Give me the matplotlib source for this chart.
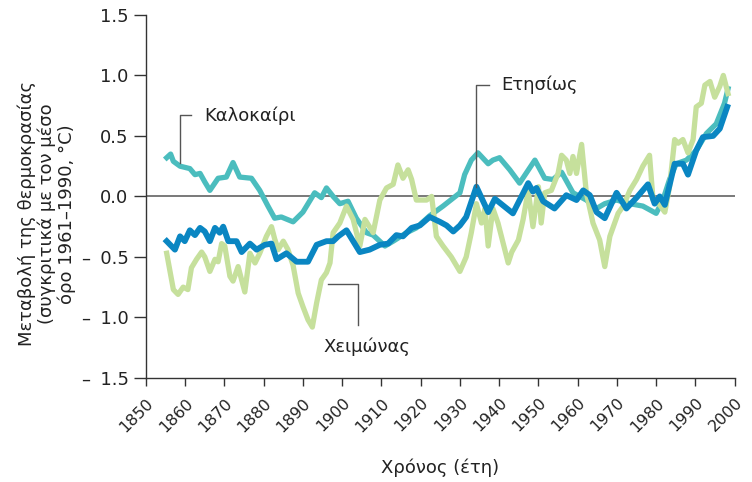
import matplotlib
matplotlib.use("Agg")
import matplotlib.pyplot as plt

# Summer (teal)
summer_years = [1855.3, 1856.3, 1857.0, 1858.7, 1861.2, 1862.5, 1863.8, 1865.0, 1866.3, 1868.4,
                1870.5, 1872.2, 1873.9, 1876.9, 1879.0, 1881.1, 1882.8, 1884.5, 1887.5, 1890.0,
                1893.0, 1894.7, 1896.0, 1897.7, 1899.4, 1901.5, 1903.6, 1906.2, 1907.9, 1910.9,
                1913.0, 1916.4, 1918.9, 1922.3, 1925.7, 1930.0, 1931.2, 1932.9, 1934.6, 1937.2,
                1938.4, 1940.1, 1942.7, 1945.2, 1949.1, 1951.6, 1953.7, 1955.9, 1958.8, 1962.2,
                1964.8, 1966.9, 1969.9, 1973.3, 1976.6, 1980.0, 1981.7, 1983.4, 1985.1, 1987.7,
                1990.2, 1992.8, 1995.3, 1997.4, 1998.3]
summer_vals = [0.32, 0.35, 0.29, 0.25, 0.23, 0.18, 0.19, 0.12, 0.05, 0.15,
               0.16, 0.28, 0.16, 0.15, 0.05, -0.08, -0.18, -0.17, -0.21, -0.13,
               0.03, -0.01, 0.07, 0.00, -0.06, -0.04, -0.18, -0.30, -0.32, -0.41,
               -0.37, -0.30, -0.26, -0.16, -0.08, 0.03, 0.18, 0.30, 0.36, 0.27,
               0.30, 0.32, 0.22, 0.11, 0.30, 0.15, 0.14, 0.20, 0.03, -0.03,
               -0.10, -0.06, -0.03, -0.06, -0.08, -0.14, -0.03, 0.14, 0.27, 0.30,
               0.38, 0.52, 0.60, 0.77, 0.89]

# Annual (dark blue)
annual_years = [1855.3, 1857.4, 1858.7, 1859.9, 1861.2, 1862.5, 1863.8, 1865.0, 1866.3, 1867.6,
                1868.8, 1869.7, 1871.0, 1873.1, 1874.4, 1876.5, 1878.2, 1880.3, 1882.0, 1883.3,
                1885.8, 1888.4, 1891.3, 1893.5, 1896.0, 1897.7, 1899.0, 1901.1, 1902.8, 1904.5,
                1907.0, 1909.6, 1911.7, 1913.8, 1915.5, 1917.7, 1919.8, 1922.3, 1924.9, 1926.6,
                1928.3, 1930.0, 1931.6, 1934.2, 1937.2, 1938.9, 1943.5, 1947.4, 1948.6, 1949.5,
                1951.2, 1954.1, 1957.1, 1959.7, 1961.4, 1963.1, 1964.8, 1966.9, 1969.9, 1972.4,
                1975.0, 1977.9, 1979.6, 1980.9, 1982.2, 1984.7, 1986.8, 1988.1, 1990.2, 1991.9,
                1994.5, 1996.2, 1998.1]
annual_vals = [-0.37, -0.44, -0.33, -0.37, -0.28, -0.32, -0.26, -0.29, -0.37, -0.26,
               -0.30, -0.25, -0.37, -0.37, -0.46, -0.39, -0.44, -0.40, -0.39, -0.52,
               -0.47, -0.54, -0.54, -0.40, -0.37, -0.37, -0.33, -0.28, -0.37, -0.46,
               -0.44, -0.40, -0.39, -0.32, -0.33, -0.26, -0.24, -0.17, -0.21, -0.24,
               -0.29, -0.24, -0.17, 0.08, -0.13, -0.02, -0.14, 0.11, 0.04, 0.07,
               -0.04, -0.10, 0.01, -0.03, 0.05, 0.01, -0.13, -0.18, 0.03, -0.10,
               -0.01, 0.10, -0.06, 0.00, -0.07, 0.27, 0.27, 0.18, 0.38, 0.49,
               0.50, 0.56, 0.74]

# Winter (light green)
winter_years = [1855.3, 1857.0, 1858.2, 1859.5, 1860.7, 1861.6, 1862.9, 1864.2, 1865.0, 1866.3,
                1867.6, 1868.4, 1869.3, 1870.1, 1871.4, 1872.2, 1873.5, 1875.2, 1876.5, 1877.8,
                1879.0, 1880.7, 1882.0, 1882.8, 1883.7, 1885.0, 1886.2, 1887.5, 1888.8, 1890.0,
                1891.3, 1892.4, 1893.5, 1894.7, 1896.0, 1896.9, 1897.7, 1899.4, 1901.1, 1902.8,
                1904.5, 1905.8, 1907.9, 1909.6, 1911.3, 1913.0, 1914.2, 1915.5, 1916.8, 1917.7,
                1918.9, 1921.5, 1922.8, 1924.0, 1925.7, 1927.8, 1930.0, 1931.6, 1932.9, 1934.2,
                1935.5, 1936.4, 1937.2, 1938.4, 1939.7, 1942.3, 1943.2, 1944.9, 1946.1, 1947.4,
                1948.6, 1950.0, 1950.7, 1951.6, 1953.3, 1955.0, 1955.9, 1957.1, 1958.0, 1958.8,
                1959.7, 1961.0, 1962.2, 1963.9, 1965.6, 1966.9, 1968.2, 1970.3, 1971.6, 1973.3,
                1975.0, 1976.6, 1978.3, 1979.2, 1980.9, 1982.2, 1983.4, 1984.7, 1985.6, 1986.8,
                1988.1, 1989.4, 1990.2, 1991.5, 1992.4, 1993.7, 1994.9, 1996.2, 1997.1, 1998.3]
winter_vals = [-0.47, -0.77, -0.81, -0.75, -0.77, -0.59, -0.52, -0.46, -0.50, -0.62,
               -0.52, -0.54, -0.39, -0.41, -0.66, -0.70, -0.58, -0.79, -0.47, -0.55,
               -0.47, -0.33, -0.25, -0.35, -0.44, -0.37, -0.44, -0.57, -0.80, -0.91,
               -1.02, -1.08, -0.88, -0.69, -0.63, -0.55, -0.30, -0.22, -0.08, -0.19,
               -0.41, -0.19, -0.30, -0.03, 0.07, 0.10, 0.26, 0.15, 0.22, 0.14,
               -0.03, -0.03, 0.00, -0.33, -0.41, -0.50, -0.62, -0.50, -0.30, -0.06,
               -0.22, -0.10, -0.41, -0.10, -0.22, -0.55, -0.46, -0.36, -0.19, 0.05,
               -0.25, 0.08, -0.22, 0.03, 0.05, 0.19, 0.34, 0.30, 0.19, 0.33,
               0.19, 0.43, 0.03, -0.22, -0.36, -0.58, -0.33, -0.14, -0.08, 0.05,
               0.14, 0.25, 0.34, -0.03, -0.07, -0.13, 0.08, 0.47, 0.44, 0.47,
               0.36, 0.47, 0.74, 0.77, 0.92, 0.95, 0.82, 0.91, 1.00, 0.85]

x_ticks = list(range(1850, 2001, 10))
y_ticks = [1.5, 1.0, 0.5, 0.0, -0.5, -1.0, -1.5]
y_tick_labels = ["1.5", "1.0", "0.5", "0.0", "\u2013\u2009 0.5", "\u2013\u2009 1.0", "\u2013\u2009 1.5"]

plt.rcParams["font.family"] = ["DejaVu Sans"]

fig = plt.figure(figsize=(7.52, 4.82), dpi=100)
ax = fig.add_axes([0.194, 0.216, 0.783, 0.753])

ax.axhline(0, color="#6e6e6e", lw=1.3, zorder=1)

ax.plot(summer_years, summer_vals, color="#4bbdbe", lw=3.8, zorder=2, solid_joinstyle="round")
ax.plot(winter_years, winter_vals, color="#c6e09c", lw=3.8, zorder=3, solid_joinstyle="round")
ax.plot(annual_years, annual_vals, color="#0a86c2", lw=4.2, zorder=4, solid_joinstyle="round")

ax.set_xlim(1850, 2000)
ax.set_ylim(-1.5, 1.5)
ax.set_xticks(x_ticks)
ax.set_xticklabels([str(y) for y in x_ticks], rotation=45, ha="right", rotation_mode="anchor")
ax.set_yticks(y_ticks)
ax.set_yticklabels(y_tick_labels)
ax.tick_params(axis="both", width=1, color="#333333", labelcolor="#222222")
ax.tick_params(axis="y", labelsize=13, length=9, pad=3.5)
ax.tick_params(axis="x", labelsize=11.5, length=6, pad=6.5)

for side in ["top", "right"]:
    ax.spines[side].set_visible(False)
for side in ["left", "bottom"]:
    ax.spines[side].set_color("#333333")
    ax.spines[side].set_linewidth(1)

ax.set_xlabel("Χρόνος (έτη)", fontsize=13, color="#222222")
ax.set_ylabel("Μεταβολή της θερμοκρασίας\n(συγκριτικά με τον μέσο\nόρο 1961\u20131990, °C)",
              fontsize=13, color="#222222", linespacing=1.08)
ax.xaxis.set_label_coords(0.5, -0.222)
ax.yaxis.set_label_coords(-0.119, 0.452)

# leader lines and labels
lc = "#555555"
ax.plot([1858.7, 1858.7, 1861.6], [0.28, 0.67, 0.67], color=lc, lw=1, zorder=5)
ax.text(1864.8, 0.67, "Καλοκαίρι", fontsize=13, va="center", ha="left", color="#222222")

ax.plot([1934.2, 1934.2, 1937.4], [0.08, 0.92, 0.92], color=lc, lw=1, zorder=5)
ax.text(1940.6, 0.92, "Ετησίως", fontsize=13, va="center", ha="left", color="#222222")

ax.plot([1896.4, 1904.1, 1904.1], [-0.72, -0.72, -1.06], color=lc, lw=1, zorder=5)
ax.text(1906.3, -1.24, "Χειμώνας", fontsize=13, va="center", ha="center", color="#222222")

fig.savefig("out.png", dpi=100)
